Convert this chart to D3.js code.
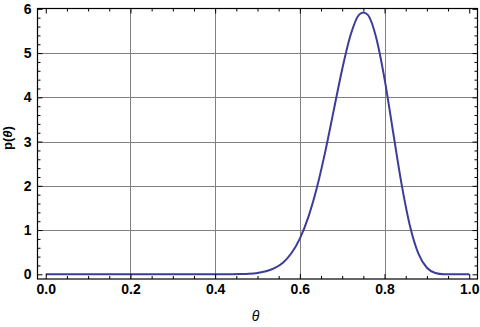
<!DOCTYPE html>
<html>
<head>
<meta charset="utf-8">
<script src="https://cdn.jsdelivr.net/npm/d3@7"></script>
<style>
  body { margin: 0; background: #fff; }
  text { font-family: "Liberation Sans", Arial, sans-serif; }
  .tick text { font-size: 14px; font-weight: bold; fill: #000; }
</style>
</head>
<body>
<div id="chart"></div>
<script>
// values
let thetas = [0.00, 0.10, 0.20, 0.30, 0.40, 0.44, 0.46, 0.48, 0.50, 0.52, 0.54, 0.56, 0.58,
  0.60, 0.62, 0.64, 0.66, 0.68, 0.70, 0.72, 0.74, 0.75, 0.76, 0.78, 0.80, 0.82, 0.84,
  0.86, 0.88, 0.90, 0.92, 0.94, 0.96, 0.98, 1.00]
let density = [0, 0, 0, 0, 0.0003, 0.002, 0.006, 0.014, 0.032, 0.068, 0.139, 0.264, 0.476,
  0.807, 1.293, 1.950, 2.773, 3.706, 4.637, 5.414, 5.870, 5.920, 5.870, 5.360, 4.419, 3.228, 2.050,
  1.092, 0.466, 0.148, 0.031, 0.003, 0.0002, 0, 0]
let xTicks = [0.0, 0.2, 0.4, 0.6, 0.8, 1.0]
let yTicks = [0, 1, 2, 3, 4, 5, 6]
let xGrid = [0.2, 0.4, 0.6, 0.8]
let yGrid = [1, 2, 3, 4, 5]

let width = 480, height = 327
let frame = {left: 37.5, right: 477.5, top: 8.5, bottom: 279}

let svg = d3.select('#chart').append('svg').attr('width', width).attr('height', height)

let x = d3.scaleLinear().domain([-0.0195, 1.0195]).range([frame.left, frame.right])
let y = d3.scaleLinear().domain([-0.106, 6.008]).range([frame.bottom, frame.top])

let xMinor = d3.range(0, 1.0001, 0.05).filter(v => !xTicks.some(t => Math.abs(t - v) < 1e-6))
let yMinor = d3.range(0, 6.0001, 0.2).filter(v => Math.abs(v - Math.round(v)) > 1e-6)

// grid lines
svg.append('g').selectAll('line').data(xGrid).enter().append('line')
  .attr('x1', d => Math.round(x(d)) + 0.5).attr('x2', d => Math.round(x(d)) + 0.5)
  .attr('y1', frame.top).attr('y2', frame.bottom)
  .attr('stroke', '#808080').attr('stroke-width', 1)
svg.append('g').selectAll('line').data(yGrid).enter().append('line')
  .attr('y1', d => Math.round(y(d)) + 0.5).attr('y2', d => Math.round(y(d)) + 0.5)
  .attr('x1', frame.left).attr('x2', frame.right)
  .attr('stroke', '#808080').attr('stroke-width', 1)

// the curve
let data = thetas.map((t, i) => ({t: t, p: density[i]}))
let line = d3.line().x(d => x(d.t)).y(d => y(d.p)).curve(d3.curveMonotoneX)
svg.append('path').datum(data).attr('d', line)
  .attr('fill', 'none').attr('stroke', '#3c3c9a').attr('stroke-width', 2)

// axes, ticks pointing inwards
function addAxis(axis, tx, ty, labels) {
  let g = svg.append('g').attr('transform', 'translate(' + tx + ',' + ty + ')').call(axis)
  g.select('.domain').remove()
  g.selectAll('.tick line').attr('stroke', '#000')
  if (!labels) g.selectAll('.tick text').remove()
  return g
}
addAxis(d3.axisBottom(x).tickValues(xTicks).tickFormat(d3.format('.1f')).tickSize(-5).tickPadding(5), 0, frame.bottom, true)
addAxis(d3.axisBottom(x).tickValues(xMinor).tickFormat('').tickSize(-3), 0, frame.bottom, false)
addAxis(d3.axisTop(x).tickValues(xTicks).tickSize(-5), 0, frame.top, false)
addAxis(d3.axisTop(x).tickValues(xMinor).tickSize(-3), 0, frame.top, false)
addAxis(d3.axisLeft(y).tickValues(yTicks).tickFormat(d3.format('d')).tickSize(-5).tickPadding(6), frame.left, 0, true)
addAxis(d3.axisLeft(y).tickValues(yMinor).tickFormat('').tickSize(-3), frame.left, 0, false)
addAxis(d3.axisRight(y).tickValues(yTicks).tickSize(-5), frame.right, 0, false)
addAxis(d3.axisRight(y).tickValues(yMinor).tickSize(-3), frame.right, 0, false)

// frame
svg.append('rect').attr('x', frame.left).attr('y', frame.top)
  .attr('width', frame.right - frame.left).attr('height', frame.bottom - frame.top)
  .attr('fill', 'none').attr('stroke', '#000').attr('stroke-width', 1.2)

// axis labels
svg.append('text').attr('x', (frame.left + frame.right) / 2 - 2).attr('y', 321)
  .attr('text-anchor', 'middle').style('font-size', '14px').style('font-style', 'italic')
  .text('θ')
let yl = svg.append('text').attr('transform', 'translate(12,138) rotate(-90)')
  .attr('text-anchor', 'middle').style('font-size', '13px').style('font-weight', 'bold')
yl.append('tspan').text('p(')
yl.append('tspan').style('font-style', 'italic').text('θ')
yl.append('tspan').text(')')
</script>
</body>
</html>
